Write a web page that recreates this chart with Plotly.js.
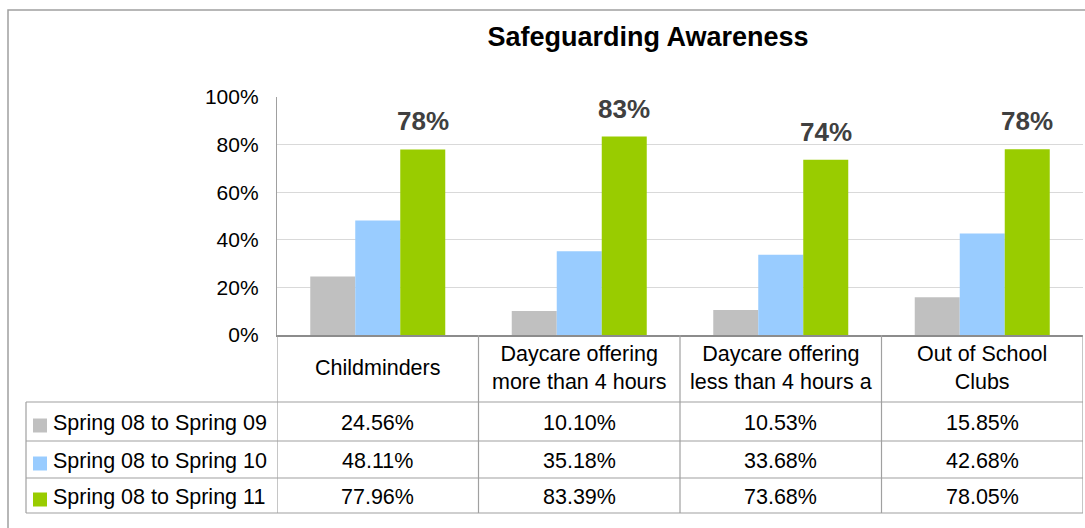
<!DOCTYPE html>
<html><head><meta charset="utf-8">
<script src="https://cdn.plot.ly/plotly-3.0.1.min.js"></script>
<style>html,body{margin:0;padding:0;background:#fff}#chart{width:1085px;height:528px}</style>
</head><body><div id="chart"></div>
<script>
const categories = ['Childminders', 'Daycare offering more than 4 hours', 'Daycare offering less than 4 hours a day', 'Out of School Clubs'];
const headerLabels = ['Childminders', 'Daycare offering<br>more than 4 hours', 'Daycare offering<br>less than 4 hours a', 'Out of School<br>Clubs'];
const seriesNames = ['Spring 08 to Spring 09', 'Spring 08 to Spring 10', 'Spring 08 to Spring 11'];
const spring09 = [0.2456, 0.1010, 0.1053, 0.1585];
const spring10 = [0.4811, 0.3518, 0.3368, 0.4268];
const spring11 = [0.7796, 0.8339, 0.7368, 0.7805];
const seriesValues = [spring09, spring10, spring11];
const colors = ['#c0c0c0', '#99ccff', '#99cc00'];

const FONT = '"Liberation Sans", Arial, sans-serif';
const TS = 21.5;
// plot area in pixels
const L = 277, T = 97, W = 806, H = 238;
const px = x => (x - L) / W;
const py = y => (T + H - y) / H;
const rowLines = [402, 441, 478, 513];
const lineColor = '#a0a0a0';

const traces = seriesValues.map((vals, i) => ({
  type: 'bar', x: categories, y: vals, name: seriesNames[i],
  marker: {color: colors[i]}, hoverinfo: 'skip'
}));

const shapes = [];
const annotations = [];
// outer chart border
shapes.push({type: 'rect', xref: 'paper', yref: 'paper', x0: px(8), x1: px(1095), y0: py(10), y1: py(540),
  line: {color: '#a0a0a0', width: 1.5}, fillcolor: 'rgba(0,0,0,0)', layer: 'below'});
// table horizontal lines
rowLines.forEach(y => shapes.push({type: 'line', xref: 'paper', yref: 'paper', x0: px(26), x1: 1, y0: py(y), y1: py(y), line: {color: lineColor, width: 1.2}}));
// left border of legend column
shapes.push({type: 'line', xref: 'paper', yref: 'paper', x0: px(26), x1: px(26), y0: py(rowLines[0]), y1: py(rowLines[3]), line: {color: lineColor, width: 1.2}});
// column borders from category boundaries
for (let i = 0; i <= categories.length; i++) {
  shapes.push({type: 'line', xref: 'x', yref: 'paper', x0: i - 0.5, x1: i - 0.5, y0: 0, y1: py(rowLines[3]), line: {color: lineColor, width: 1.2}});
}
// header labels
categories.forEach((c, i) => annotations.push({xref: 'x', yref: 'paper', x: c, y: py(368), text: headerLabels[i],
  showarrow: false, font: {family: FONT, size: TS, color: '#000'}, yanchor: 'middle', xanchor: 'center'}));
// rows
const rowCenters = [];
for (let r = 0; r < 3; r++) rowCenters.push((rowLines[r] + rowLines[r + 1]) / 2);
seriesNames.forEach((n, r) => {
  const yc = rowCenters[r];
  shapes.push({type: 'rect', xref: 'paper', yref: 'paper', x0: px(33), x1: px(47), y0: py(yc - 3), y1: py(yc + 11),
    fillcolor: colors[r], line: {width: 0}});
  annotations.push({xref: 'paper', yref: 'paper', x: px(51), y: py(yc + 1), text: n, showarrow: false,
    xanchor: 'left', yanchor: 'middle', font: {family: FONT, size: TS, color: '#000'}});
  seriesValues[r].forEach((v, i) => annotations.push({xref: 'x', yref: 'paper', x: categories[i], y: py(yc + 1),
    text: (v * 100).toFixed(2) + '%', showarrow: false, xanchor: 'center', yanchor: 'middle',
    font: {family: FONT, size: TS, color: '#000'}}));
});
// data labels above the last series
spring11.forEach((v, i) => annotations.push({xref: 'x', yref: 'y', x: categories[i], y: v, xshift: 45,
  yshift: 11, yanchor: 'bottom', xanchor: 'center', showarrow: false, text: Math.round(v * 100) + '%',
  font: {family: FONT, size: 26, color: '#404040', weight: 'bold'}}));

const layout = {
  width: 1085, height: 528,
  margin: {l: L, r: 1085 - L - W, t: T, b: 528 - T - H, pad: 0},
  paper_bgcolor: '#fff', plot_bgcolor: '#fff',
  font: {family: FONT, color: '#000'},
  title: {text: '<b>Safeguarding Awareness</b>', font: {family: FONT, size: 27, color: '#000'},
    xref: 'container', yref: 'container', x: 648 / 1085, xanchor: 'center', y: 1 - 37 / 528, yanchor: 'middle'},
  barmode: 'group', bargap: 0.33, bargroupgap: 0,
  showlegend: false,
  xaxis: {type: 'category', range: [-0.5, 3.5], showticklabels: false, ticks: '', showgrid: false,
    showline: true, linecolor: '#8c8c8c', linewidth: 1.5, zeroline: false, fixedrange: true},
  yaxis: {range: [0, 1], dtick: 0.2, tickformat: '.0%', showgrid: true, gridcolor: '#d9d9d9', gridwidth: 1.2,
    showline: true, linecolor: '#a0a0a0', linewidth: 1.2, zeroline: false, ticks: '', ticklabelstandoff: 13,
    tickfont: {family: FONT, size: 21, color: '#000'}, fixedrange: true},
  shapes: shapes, annotations: annotations
};
Plotly.newPlot('chart', traces, layout, {displayModeBar: false, staticPlot: true});
</script></body></html>
